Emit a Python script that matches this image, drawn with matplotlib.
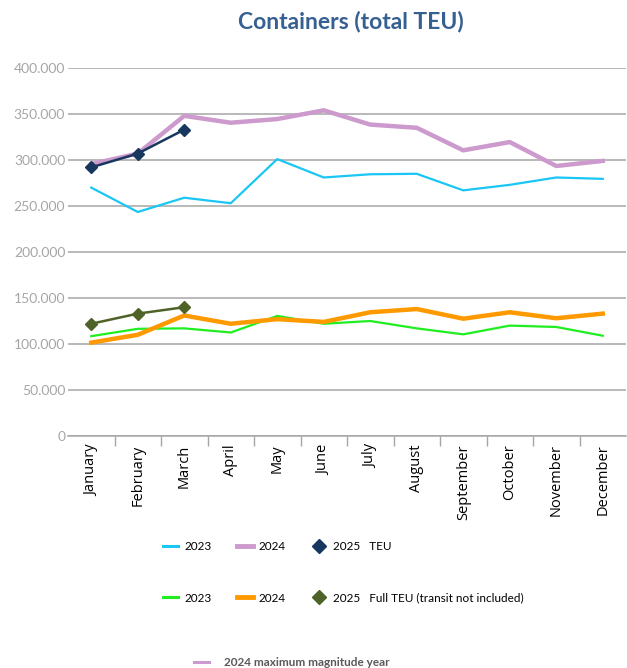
import matplotlib
matplotlib.use("Agg")
import matplotlib.pyplot as plt
from matplotlib.lines import Line2D
from matplotlib.ticker import FuncFormatter

plt.rcParams['font.family'] = ['Lato', 'DejaVu Sans']

months = ["January", "February", "March", "April", "May", "June", "July",
          "August", "September", "October", "November", "December"]

# TEU (thousands)
teu_2023 = [270, 243.5, 259, 253, 301, 281, 284.5, 285, 267, 273, 281, 279.5]
teu_2024 = [295.5, 307, 348, 340.5, 344.5, 354, 338.5, 335, 310.5, 319.5, 293.5, 299]
teu_2025 = [292, 307, 333]

# Full TEU, transit not included (thousands)
full_2023 = [108.5, 116.5, 117, 112.5, 130.5, 122, 125, 117, 110.5, 120, 118.5, 109]
full_2024 = [101.5, 110, 131, 122, 127, 124, 134.5, 138, 127.5, 134.5, 128, 133]
full_2025 = [122, 133, 140]

x = list(range(len(months)))

fig = plt.figure(figsize=(6.27, 6.68), dpi=100)
ax = fig.add_axes([68/627, 1 - 436/668, 558/627, 368/668])

c23, c24, c25 = "#19C6F4", "#CC9ACC", "#17375E"
g23, o24, v25 = "#1FEE1F", "#FF9900", "#4F6228"

ax.plot(x, [v*1000 for v in teu_2023], color=c23, lw=1.6, zorder=3)
ax.plot(x, [v*1000 for v in teu_2024], color=c24, lw=3.2, zorder=3)
ax.plot(x[:3], [v*1000 for v in teu_2025], color=c25, lw=1.8, marker="D",
        ms=6.5, zorder=4)
ax.plot(x, [v*1000 for v in full_2023], color=g23, lw=1.6, zorder=3)
ax.plot(x, [v*1000 for v in full_2024], color=o24, lw=3.2, zorder=3)
ax.plot(x[:3], [v*1000 for v in full_2025], color=v25, lw=1.8, marker="D",
        ms=6.5, zorder=4)

ax.set_xlim(-0.5, 11.5)
ax.set_ylim(0, 400000)
ax.set_yticks(range(0, 400001, 50000))
ax.yaxis.set_major_formatter(FuncFormatter(
    lambda v, p: "0" if v == 0 else f"{int(v):,}".replace(",", ".")))
ax.tick_params(axis="y", length=0, pad=2, labelsize=10, labelcolor="#A6A6A6")
ax.grid(axis="y", color="#A6A6A6", lw=1.1)
ax.set_axisbelow(True)

ax.set_xticks(x)
ax.set_xticklabels(months, rotation=90, fontsize=10.5,
                   family=["Open Sans", "DejaVu Sans"])
ax.tick_params(axis="x", which="major", length=0, pad=6)
ax.set_xticks([i + 0.5 for i in range(11)], minor=True)
ax.tick_params(axis="x", which="minor", length=7, color="#A6A6A6", width=1)

for s in ["top", "right", "left"]:
    ax.spines[s].set_visible(False)
ax.spines["bottom"].set_color("#A6A6A6")
ax.spines["bottom"].set_linewidth(1.1)

fig.text(351/627, 1 - 21/668, "Containers (total TEU)", ha="center", va="center",
         fontsize=16.5, fontweight="bold", color="#376092")

leg_kw = dict(ncol=3, frameon=False, fontsize=8.5, handlelength=1.3,
              handletextpad=0.5, columnspacing=2.2, loc="center left",
              borderpad=0, borderaxespad=0)
h1 = [Line2D([], [], color=c23, lw=2.2),
      Line2D([], [], color=c24, lw=3.5),
      Line2D([], [], color=c25, lw=0, marker="D", ms=7)]
fig.legend(h1, ["2023", "2024", "2025   TEU"],
           bbox_to_anchor=(163/627, 1 - 547/668), **leg_kw)
h2 = [Line2D([], [], color=g23, lw=2.2),
      Line2D([], [], color=o24, lw=3.5),
      Line2D([], [], color=v25, lw=0, marker="D", ms=7)]
fig.legend(h2, ["2023", "2024", "2025   Full TEU (transit not included)"],
           bbox_to_anchor=(163/627, 1 - 598/668), **leg_kw)
h3 = [Line2D([], [], color=c24, lw=2.2)]
l3 = fig.legend(h3, ["2024 maximum magnitude year"], frameon=False,
                fontsize=8.5, handlelength=1.3, handletextpad=1.2,
                loc="center left", borderpad=0, borderaxespad=0,
                bbox_to_anchor=(194/627, 1 - 663/668))
for t in l3.get_texts():
    t.set_fontweight("bold")
    t.set_color("#595959")

fig.savefig("out.png", dpi=100)
